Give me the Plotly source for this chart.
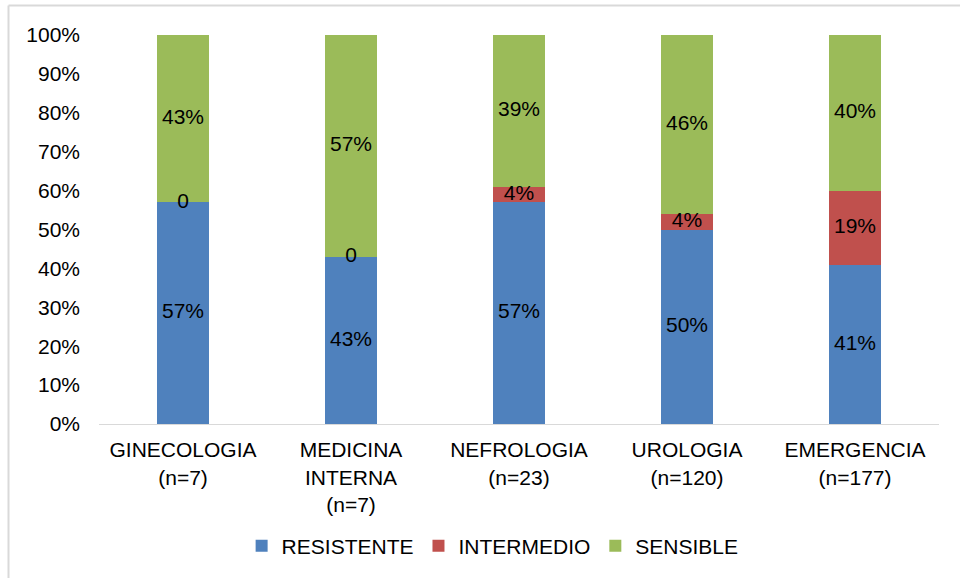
import plotly.graph_objects as go

categories = ["GINECOLOGIA<br>(n=7)", "MEDICINA<br>INTERNA<br>(n=7)", "NEFROLOGIA<br>(n=23)",
              "UROLOGIA<br>(n=120)", "EMERGENCIA<br>(n=177)"]
resistente = [57, 43, 57, 50, 41]
intermedio = [0, 0, 4, 4, 19]
sensible = [43, 57, 39, 46, 40]
y_ticks = list(range(0, 101, 10))
y_tick_labels = [f"{v}%" for v in y_ticks]

series = [
    ("RESISTENTE", resistente, "#4f81bd"),
    ("INTERMEDIO", intermedio, "#c0504d"),
    ("SENSIBLE", sensible, "#9bbb59"),
]

FONT = "Liberation Sans, Arial, sans-serif"
FS = 21
fig = go.Figure()

base = [0] * len(categories)
label_traces = []
for name, vals, color in series:
    fig.add_trace(go.Bar(x=categories, y=vals, name=name, marker_color=color,
                         marker_line_width=0, width=0.31, hoverinfo="skip"))
    mids = [b + v / 2 for b, v in zip(base, vals)]
    texts = [f"{v}%" if v > 0 else "0" for v in vals]
    label_traces.append(go.Scatter(x=categories, y=mids, mode="text", text=texts,
                                   textposition="middle center",
                                   textfont=dict(size=FS, color="#000000", family=FONT),
                                   showlegend=False, hoverinfo="skip"))
    base = [b + v for b, v in zip(base, vals)]

for t in label_traces:
    fig.add_trace(t)

L, R, T, B = 99, 21, 35, 154
W, H = 960, 578
pw, ph = W - L - R, H - T - B

fig.update_layout(
    width=W, height=H,
    margin=dict(l=L, r=R, t=T, b=B),
    barmode="stack",
    paper_bgcolor="white", plot_bgcolor="white",
    font=dict(family=FONT, size=FS, color="#000000"),
    showlegend=True,
    legend=dict(orientation="h", x=0.4686, xanchor="center", y=(424 - 546) / ph, yanchor="middle",
                font=dict(size=FS, color="#000000", family=FONT), itemwidth=30,
                traceorder="normal"),
    xaxis=dict(showline=True, linecolor="#d9d9d9", linewidth=1, ticks="", showgrid=False,
               tickfont=dict(size=FS, color="#000000"), fixedrange=True,
               ticklabelstandoff=7),
    yaxis=dict(range=[0, 100], tickmode="array", tickvals=y_ticks, ticktext=y_tick_labels,
               showgrid=False, showline=False, zeroline=False, ticks="",
               tickfont=dict(size=FS, color="#000000"), fixedrange=True,
               ticklabelstandoff=18),
    shapes=[
        dict(type="line", xref="paper", yref="paper",
             x0=(8.5 - L) / pw, x1=(W + 5 - L) / pw,
             y0=1 + (T - 5.5) / ph, y1=1 + (T - 5.5) / ph,
             line=dict(color="#d9d9d9", width=2)),
        dict(type="line", xref="paper", yref="paper",
             x0=(8.5 - L) / pw, x1=(8.5 - L) / pw,
             y0=1 + (T - 5.5) / ph, y1=-(H + 5 - T - ph) / ph,
             line=dict(color="#d9d9d9", width=2)),
    ],
)

fig.write_html("out.html")
